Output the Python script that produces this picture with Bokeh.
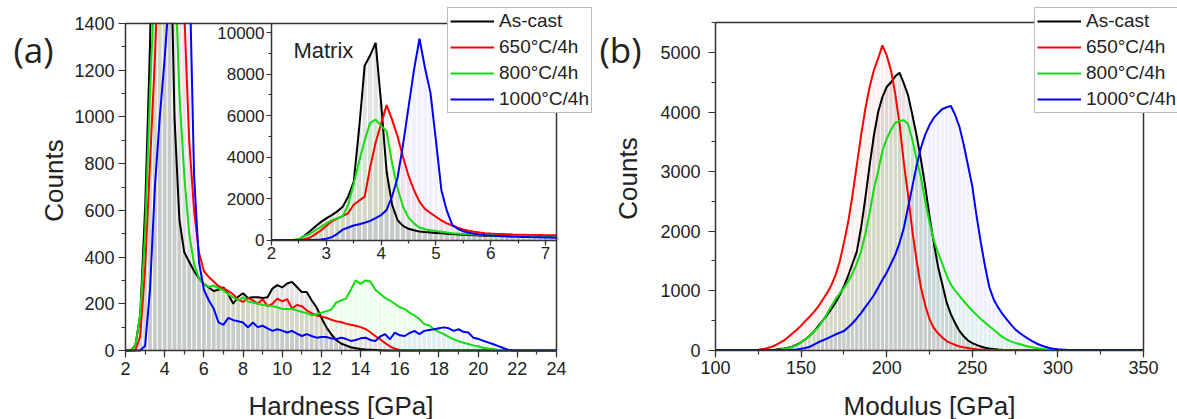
import numpy as np
from bokeh.plotting import figure
from bokeh.models import (Range1d, LinearAxis, Legend, LegendItem, Label,
                          SingleIntervalTicker, FixedTicker)
from bokeh.layouts import row
from bokeh.embed import file_html
from bokeh.resources import INLINE

FONT = "Liberation Sans"
AX = "#333333"
TXT = "#222222"
H = 419

labels = ["As-cast", "650°C/4h", "800°C/4h", "1000°C/4h"]
line_colors = ["#000000", "#ff0000", "#11dd11", "#0000ff"]
fill_colors = ["#808080", "#ff0000", "#00ff00", "#0000ff"]
fill_alphas = [0.22, 0.06, 0.07, 0.06]

# ---------------- (a) Hardness, 0.25 GPa bins ----------------
hard_x = np.arange(2.0, 24.001, 0.25)
hard_ascast = [0, 0, 20, 150, 600, 1300, 2500, 3800, 4200, 2000,
               1000, 560, 420, 380, 340, 310, 285, 270, 255, 260,
               270, 240, 200, 230, 245, 225, 228, 228, 225, 228,
               265, 280, 270, 287, 294, 272, 250, 250, 215, 185,
               140, 100, 70, 45, 30, 22, 14, 10, 6, 4,
               3, 2, 1] + [0] * 36
hard_650 = [0, 0, 0, 60, 350, 800, 1250, 1800, 2600, 3000,
            2600, 1900, 1450, 900, 600, 420, 340, 315, 295, 275,
            265, 255, 240, 218, 208, 225, 215, 200, 220, 190,
            200, 222, 210, 220, 180, 195, 190, 172, 160, 150,
            145, 140, 132, 125, 122, 115, 110, 106, 100, 92,
            78, 62, 48, 32, 18, 8, 2] + [0] * 32
hard_800 = [0, 0, 20, 150, 500, 1100, 1600, 2300, 2800, 2400,
            1700, 1100, 750, 500, 370, 310, 285, 272, 278, 266,
            258, 240, 228, 214, 228, 210, 205, 200, 195, 193,
            190, 185, 178, 178, 178, 172, 165, 160, 150, 155,
            162, 168, 175, 205, 214, 222, 260, 300, 285, 300,
            295, 260, 243, 225, 214, 200, 185, 178, 162, 150,
            135, 113, 108, 91, 80, 70, 58, 48, 40, 33,
            28, 22, 18, 12, 9, 6, 3, 2, 0] + [0] * 10
hard_1000 = [0, 0, 0, 0, 20, 260, 700, 1000, 1250, 1550,
             2300, 3800, 3500, 1700, 750, 380, 260, 215, 180, 120,
             110, 140, 130, 125, 120, 99, 120, 100, 106, 95,
             84, 91, 85, 77, 84, 72, 62, 70, 62, 55,
             58, 58, 52, 48, 55, 50, 41, 45, 52, 55,
             45, 41, 60, 70, 48, 77, 65, 62, 75, 84,
             70, 84, 88, 91, 95, 99, 95, 84, 91, 80,
             77, 55, 50, 42, 35, 28, 20, 12, 4, 0] + [0] * 9

# ---------------- inset: Matrix, 0.1 GPa bins ----------------
mat_x = np.arange(2.0, 7.2001, 0.1)
mat_ascast = [0, 0, 0, 0, 0, 30, 200, 420, 650, 860,
              1040, 1200, 1380, 1600, 2100, 2800, 5400, 8400, 8900, 9500,
              6600, 3300, 1700, 950, 680, 540, 470, 410, 380, 360,
              340, 320, 300, 285, 270, 255, 240, 230, 220, 210,
              205, 195, 190, 185, 180, 175, 170, 165, 160, 155,
              150, 140, 130]
mat_650 = [0, 0, 0, 0, 0, 0, 40, 110, 280, 460,
           680, 900, 1030, 1150, 1300, 1700, 1900, 2090, 3500, 4700,
           5600, 6500, 5800, 5000, 4000, 3100, 2400, 1850, 1500, 1300,
           1120, 950, 800, 700, 590, 510, 450, 400, 360, 330,
           310, 295, 285, 275, 265, 258, 252, 246, 240, 235,
           230, 228, 225]
mat_800 = [0, 0, 0, 0, 0, 50, 180, 300, 470, 630,
           800, 960, 1050, 1150, 1700, 2700, 3800, 4800, 5650, 5800,
           5500, 5250, 3700, 2500, 1600, 1080, 800, 600, 520, 470,
           430, 395, 360, 330, 310, 295, 280, 265, 250, 235,
           220, 205, 190, 185, 180, 175, 170, 165, 160, 155,
           145, 138, 130]
mat_1000 = [0, 0, 0, 0, 0, 0, 0, 0, 0, 20,
            60, 140, 300, 500, 600, 700, 760, 830, 920, 1050,
            1200, 1450, 2100, 3000, 4600, 6400, 8200, 9700, 8300, 7100,
            4800, 2400, 1400, 720, 540, 420, 350, 300, 260, 235,
            215, 200, 185, 175, 165, 158, 150, 142, 135, 128,
            120, 115, 110]

# ---------------- (b) Modulus, 2.5 GPa bins ----------------
mod_x = np.arange(100.0, 350.001, 2.5)
mod_ascast = [0] * 14 + [5, 15, 25, 40, 60, 90, 130, 180, 240, 310,
                         400, 490, 580, 680, 790, 920, 1070, 1250, 1450, 1650,
                         2050, 2550, 3100, 3600, 4000, 4250, 4420, 4500, 4600, 4660,
                         4480, 4280, 3950, 3600, 3200, 2750, 2250, 1800, 1400, 1100,
                         800, 600, 450, 320, 230, 160, 115, 85, 60, 38,
                         25, 15, 8, 3] + [0] * 33
mod_650 = [0] * 10 + [5, 15, 30, 50, 80, 120, 160, 220, 280, 340,
                      410, 490, 560, 640, 730, 840, 950, 1080, 1250, 1480,
                      1800, 2150, 2600, 3100, 3600, 4050, 4420, 4700, 4900, 5120,
                      4950, 4700, 4300, 3800, 3150, 2600, 2000, 1500, 1050, 750,
                      520, 370, 280, 210, 150, 115, 85, 60, 45, 32,
                      22, 14, 8, 4, 2] + [0] * 36
mod_800 = [0] * 14 + [5, 10, 20, 35, 55, 80, 130, 180, 240, 310,
                      380, 480, 600, 730, 850, 950, 1040, 1150, 1280, 1450,
                      1650, 1950, 2300, 2700, 3000, 3350, 3550, 3700, 3820, 3850,
                      3860, 3800, 3530, 3200, 2900, 2500, 2150, 1850, 1630, 1450,
                      1250, 1100, 1000, 910, 820, 740, 660, 590, 520, 460,
                      400, 340, 280, 220, 180, 145, 120, 100, 80, 60,
                      45, 32, 22, 12, 5, 2] + [0] * 21
mod_1000 = [0] * 18 + [5, 10, 20, 35, 55, 90, 130, 160, 190, 225,
                       260, 290, 320, 380, 450, 530, 620, 720, 820, 920,
                       1050, 1180, 1300, 1450, 1600, 1800, 2050, 2400, 2750, 3100,
                       3400, 3620, 3780, 3900, 3980, 4050, 4080, 4100, 3950, 3750,
                       3450, 3100, 2750, 2250, 1800, 1400, 1050, 850, 720, 610,
                       520, 430, 350, 290, 240, 190, 150, 110, 80, 55,
                       35, 22, 14, 8, 4, 2] + [0] * 17

hard_series = [hard_ascast, hard_650, hard_800, hard_1000]
mat_series = [mat_ascast, mat_650, mat_800, mat_1000]
mod_series = [mod_ascast, mod_650, mod_800, mod_1000]


def px_range(p0, v0, p1, v1, lo_px, hi_px):
    """Range whose values sit at the given canvas pixels (linear)."""
    k = (v1 - v0) / (p1 - p0)
    return Range1d(v0 + (lo_px - p0) * k, v0 + (hi_px - p0) * k)


def style_axis(ax, size="18px", standoff=4, tick=7, minor=4):
    ax.axis_line_color = AX
    ax.axis_line_width = 1.5
    ax.major_tick_line_color = AX
    ax.minor_tick_line_color = AX
    ax.major_tick_line_width = 1.2
    ax.minor_tick_line_width = 1.2
    ax.major_tick_in = 0
    ax.major_tick_out = tick
    ax.minor_tick_in = 0
    ax.minor_tick_out = minor
    ax.major_label_text_font = FONT
    ax.major_label_text_font_size = size
    ax.major_label_text_color = TXT
    ax.major_label_standoff = standoff


def border(p, side, loc, bounds, **kw):
    ax = LinearAxis(fixed_location=loc, bounds=bounds, ticker=FixedTicker(ticks=[]),
                    axis_line_color=AX, axis_line_width=1.5, **kw)
    p.add_layout(ax, side)


def base_fig(width, xr, yr):
    p = figure(width=width, height=H, x_range=xr, y_range=yr,
               output_backend="svg", toolbar_location=None,
               x_axis_location=None, y_axis_location=None,
               min_border=0, min_border_left=0, min_border_right=0,
               min_border_top=0, min_border_bottom=0)
    p.xgrid.visible = False
    p.ygrid.visible = False
    p.outline_line_color = None
    return p


def draw_series(p, xs, series, step, **kw):
    rends = []
    for ys, fc, fa in zip(series, fill_colors, fill_alphas):
        p.vbar(x=xs, top=ys, width=step * 0.78, bottom=0, fill_color=fc,
               fill_alpha=fa, line_color=None, **kw)
    for ys, lc in zip(series, line_colors):
        rends.append(p.line(xs, ys, line_color=lc, line_width=2, **kw))
    return rends


def add_legend(p, rends, vx, vy):
    leg = Legend(items=[LegendItem(label=l, renderers=[r]) for l, r in zip(labels, rends)],
                 location=(vx, vy), label_text_font=FONT, label_text_font_size="19px",
                 label_text_color=TXT,
                 glyph_width=44, glyph_height=22, label_height=22, spacing=4,
                 padding=2, margin=0, label_standoff=5,
                 border_line_color="#777777", border_line_width=1.2,
                 background_fill_color="white", background_fill_alpha=1.0)
    p.add_layout(leg)


def text(p, x, y, s, size, font=FONT, angle=0.0, align="left", baseline="middle"):
    p.add_layout(Label(x=x, y=y, x_units="screen", y_units="screen", text=s,
                       text_font=font, text_font_size=size, text_color=TXT,
                       angle=angle, text_align=align, text_baseline=baseline))


# ================= panel (a) =================
WA = 596
Y0_PX, Y1_PX = 350, 23
pa = base_fig(WA, px_range(125, 2, 556, 24, 0, WA), px_range(Y0_PX, 0, Y1_PX, 1400, H, 0))
pa.extra_x_ranges = {"ix": px_range(271, 2.0, 556, 7.2, 0, WA)}
pa.extra_y_ranges = {"iy": px_range(239.5, 0, 32, 10000, H, 0)}
y_top_a = pa.y_range.end
iy_top = 10000 + (32 - 23) * 10000 / (239.5 - 32)

rends_a = draw_series(pa, hard_x, hard_series, 0.25)
draw_series(pa, mat_x, mat_series, 0.1, x_range_name="ix", y_range_name="iy")
# white mask above the 1400 frame top (the peaks run off the frame); it stops
# just above the 1.5px frame line so that line stays visible
mask_bottom = 1400 + 0.75 * 1400 / (Y0_PX - Y1_PX)
pa.quad(left=[1.9], right=[24.1], bottom=[mask_bottom], top=[y_top_a + 200],
        fill_color="white", line_color=None, level="guide")

xa = LinearAxis(fixed_location=0, bounds=(2, 24),
                ticker=SingleIntervalTicker(interval=2, num_minor_ticks=2))
style_axis(xa, standoff=4)
pa.add_layout(xa, "below")
ya = LinearAxis(fixed_location=2, bounds=(0, 1400),
                ticker=SingleIntervalTicker(interval=200, num_minor_ticks=2))
style_axis(ya, standoff=4)
pa.add_layout(ya, "left")
border(pa, "above", 1400, (2, 24))
border(pa, "right", 24, (0, 1400))

ixa = LinearAxis(x_range_name="ix", y_range_name="iy", fixed_location=0, bounds=(2, 7.2),
                 ticker=SingleIntervalTicker(interval=1, num_minor_ticks=2))
style_axis(ixa, size="17px", standoff=2, tick=5, minor=3)
pa.add_layout(ixa, "below")
iya = LinearAxis(x_range_name="ix", y_range_name="iy", fixed_location=2, bounds=(0, iy_top),
                 ticker=SingleIntervalTicker(interval=2000, num_minor_ticks=2))
style_axis(iya, size="17px", standoff=2, tick=5, minor=3)
pa.add_layout(iya, "left")
pa.add_layout(Label(x=2.4, y=9133, x_range_name="ix", y_range_name="iy", text="Matrix",
                    text_font=FONT, text_font_size="22px", text_color=TXT,
                    text_baseline="alphabetic"))

text(pa, 13, H - 49, "(a)", "35px", font="Open Sans")
text(pa, 53, H - 180, "Counts", "26px", angle=np.pi / 2, align="center")
text(pa, 340.5, H - 405, "Hardness [GPa]", "26px", align="center")
add_legend(pa, rends_a, 447, H - 113)

# ================= panel (b) =================
WB = 581
pb = base_fig(WB, px_range(119, 100, 547, 350, 0, WB), px_range(349.5, 0, 52, 5000, H, 0))
rends_b = draw_series(pb, mod_x, mod_series, 2.5)

xb = LinearAxis(fixed_location=0, bounds=(100, 350),
                ticker=SingleIntervalTicker(interval=50, num_minor_ticks=2))
style_axis(xb, standoff=4)
pb.add_layout(xb, "below")
yb = LinearAxis(fixed_location=100, bounds=(0, 5500),
                ticker=SingleIntervalTicker(interval=1000, num_minor_ticks=2))
style_axis(yb, standoff=8)
pb.add_layout(yb, "left")
border(pb, "above", 5500, (100, 350))
border(pb, "right", 350, (0, 5500))

text(pb, 3, H - 49, "(b)", "35px", font="Open Sans")
text(pb, 31, H - 178, "Counts", "26px", angle=np.pi / 2, align="center")
text(pb, 333, H - 405, "Modulus [GPa]", "26px", align="center")
add_legend(pb, rends_b, 438, H - 113)

layout = row(pa, pb)
open("out.html", "w").write(file_html(layout, INLINE))
